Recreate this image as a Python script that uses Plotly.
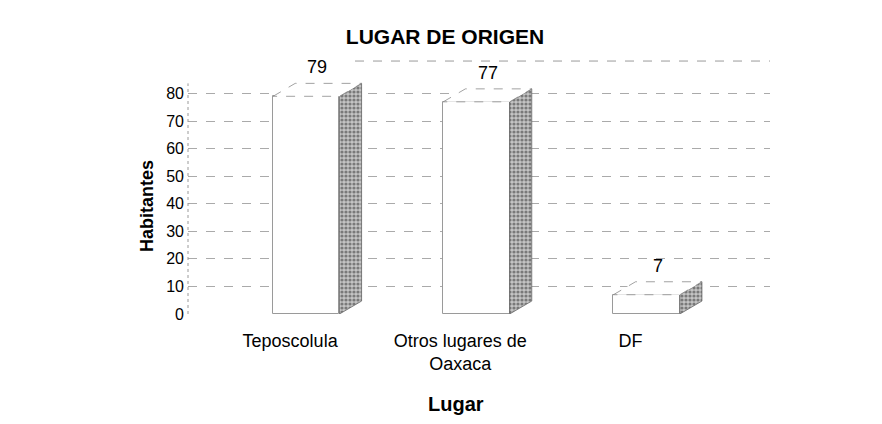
import plotly.graph_objects as go

# ---- data ----
categories = ["Teposcolula", "Otros lugares de<br>Oaxaca", "DF"]
habitantes = [79, 77, 7]
y_tick_values = [0, 10, 20, 30, 40, 50, 60, 70, 80]

title_text = "LUGAR DE ORIGEN"
x_title = "Lugar"
y_title = "Habitantes"

# ---- styling / pseudo-3D geometry (in axis units) ----
FONT = "Arial, Liberation Sans, sans-serif"
BAR_W = 0.39
BAR_OFF = -0.10
DX = 0.13
DY = 4.7
LABEL_DX = 0.16
LABEL_DY = 10.5

W, H = 874, 416
ML, MR, MT, MB = 180, 112, 58, 110
PW, PH = W - ML - MR, H - MT - MB

pos = list(range(len(categories)))

fig = go.Figure()

# front faces
fig.add_trace(go.Bar(
    x=pos, y=habitantes, width=BAR_W, offset=BAR_OFF,
    marker=dict(color="white", line=dict(color="#9a9a9a", width=1)),
    hoverinfo="skip", showlegend=False,
))

side_x, side_y, top_x, top_y = [], [], [], []
for p, v in zip(pos, habitantes):
    xl = p + BAR_OFF
    xr = xl + BAR_W
    side_x += [xr, xr + DX, xr + DX, xr, xr, None]
    side_y += [0, DY, v + DY, v, 0, None]
    top_x += [xl, xl + DX, xr + DX, xr, xl, None]
    top_y += [v, v + DY, v + DY, v, v, None]

# side faces (stippled grey)
fig.add_trace(go.Scatter(
    x=side_x, y=side_y, mode="lines", fill="toself",
    line=dict(color="#666666", width=0.8),
    fillcolor="#8f8f8f",
    fillpattern=dict(shape=".", fgcolor="#2e2e2e", bgcolor="#c4c4c4", size=4, solidity=0.5),
    hoverinfo="skip", showlegend=False,
))
# top faces
fig.add_trace(go.Scatter(
    x=top_x, y=top_y, mode="lines", fill="toself",
    line=dict(color="#8a8a8a", width=0.8, dash="dash"),
    fillcolor="white",
    hoverinfo="skip", showlegend=False,
))

# data labels
for p, v in zip(pos, habitantes):
    fig.add_annotation(x=p + LABEL_DX, y=v + LABEL_DY, text=str(v), showarrow=False,
                       font=dict(family=FONT, size=18, color="black"),
                       xanchor="center", yanchor="middle")

fig.update_layout(
    width=W, height=H,
    margin=dict(l=ML, r=MR, t=MT, b=MB),
    paper_bgcolor="white", plot_bgcolor="white",
    font=dict(family=FONT, color="black"),
    title=dict(text="<b>" + title_text + "</b>", x=437 / W, xanchor="center",
               y=1 - 29 / H, yref="container", yanchor="middle",
               font=dict(family=FONT, size=21, color="black")),
    xaxis=dict(range=[-0.6, 2.82], tickvals=pos, ticktext=categories,
               showgrid=False, zeroline=False, showline=False, ticks="",
               automargin=False, ticklabelstandoff=14,
               tickfont=dict(family=FONT, size=18, color="black")),
    yaxis=dict(range=[0, 90], tickvals=y_tick_values,
               showgrid=True, gridcolor="#aaaaaa", griddash="dash", gridwidth=1,
               zeroline=False, showline=False, ticks="",
               automargin=False, ticklabelstandoff=3,
               tickfont=dict(family=FONT, size=16, color="black")),
    bargap=0,
)

fig.add_annotation(xref="paper", yref="paper", x=(139 - ML) / PW, y=(MT + PH - 198) / PH,
                   text="<b>" + y_title + "</b>", textangle=-90, showarrow=False,
                   xanchor="center", yanchor="middle",
                   font=dict(family=FONT, size=18, color="black"))
fig.add_annotation(xref="paper", yref="paper", x=(448 - ML) / PW, y=(MT + PH - 396) / PH,
                   text="<b>" + x_title + "</b>", showarrow=False,
                   xanchor="center", yanchor="middle",
                   font=dict(family=FONT, size=20, color="black"))

# dotted left wall edge and dashed back-wall top edge
fig.add_shape(type="line", xref="paper", yref="paper", x0=0, x1=0, y0=0, y1=0.93,
              line=dict(color="#9a9a9a", width=1, dash="dot"))
fig.add_shape(type="line", xref="paper", yref="paper", x0=(347 - ML) / PW, x1=1.0, y0=1.02, y1=1.02,
              line=dict(color="#9a9a9a", width=1, dash="dash"))

fig.write_html("out.html")
